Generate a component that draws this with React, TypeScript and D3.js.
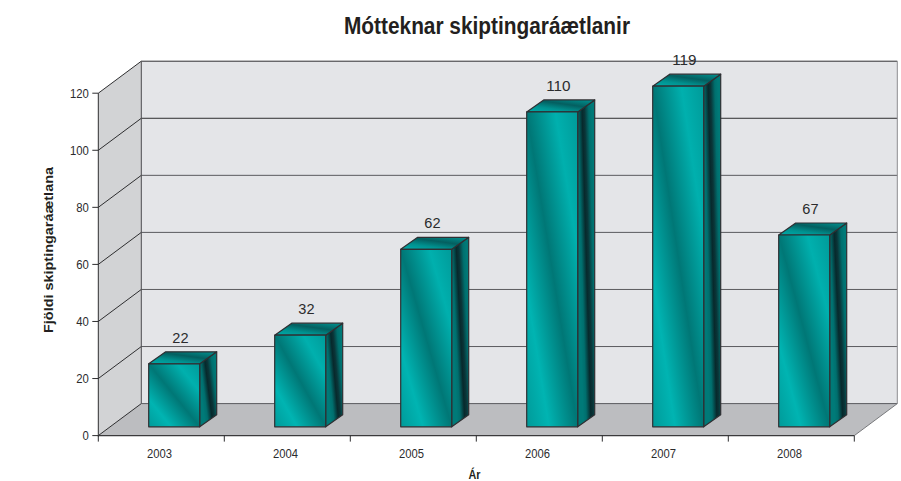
import React from "react";
import * as d3 from "d3";

const years = ["2003", "2004", "2005", "2006", "2007", "2008"];
const counts = [22, 32, 62, 110, 119, 67];
const yTicks = [0, 20, 40, 60, 80, 100, 120];
const title = "Mótteknar skiptingaráætlanir";
const yTitle = "Fjöldi skiptingaráætlana";
const xTitle = "Ár";

const W = 901, H = 481;
const FONT = "'Liberation Sans', Arial, sans-serif";
const INK = "#2b2b2d";
const x0 = 98.3, x1 = 854.3, yBase = 435.6, yTop = 93.2;
const DX = 43, DY = -32;
const barW = 51, barDX = 17, barDY = -12, barOffset = 50.4, barBase = 426.8;

const xBand = d3.scaleBand<string>().domain(years).range([x0, x1]);
const y = d3.scaleLinear().domain([0, 120]).range([yBase, yTop]);
const yBar = d3.scaleLinear().domain([0, 120]).range([barBase, barBase - 343.5]);

export default function App() {
  const pathFor = d3.line();
  return (
    <svg width={W} height={H} viewBox={`0 0 ${W} ${H}`} style={{ position: "absolute", left: 0, top: 0, background: "#fff" }} fontFamily={FONT}>
      <defs>
        <linearGradient id="front" x1="1" y1="0" x2="0" y2="1">
          <stop offset="0" stopColor="#009a99" />
          <stop offset="0.22" stopColor="#00b0ae" />
          <stop offset="0.5" stopColor="#007776" />
          <stop offset="0.78" stopColor="#00b4b2" />
          <stop offset="1" stopColor="#009a99" />
        </linearGradient>
        <linearGradient id="side" x1="0.975" y1="0.28" x2="0.175" y2="0.72">
          <stop offset="0" stopColor="#007a78" />
          <stop offset="0.18" stopColor="#006f6e" />
          <stop offset="0.42" stopColor="#0a3538" />
          <stop offset="0.56" stopColor="#07292c" />
          <stop offset="0.82" stopColor="#006f6e" />
          <stop offset="1" stopColor="#007a78" />
        </linearGradient>
        <linearGradient id="top" x1="0.1" y1="1" x2="0.9" y2="0">
          <stop offset="0" stopColor="#00a9a7" />
          <stop offset="0.3" stopColor="#00918f" />
          <stop offset="0.62" stopColor="#045f60" />
          <stop offset="1" stopColor="#008f8d" />
        </linearGradient>
      </defs>

      {/* walls and floor */}
      <path d={pathFor([[x0 + DX, yTop + DY], [x1 + DX, yTop + DY], [x1 + DX, yBase + DY], [x0 + DX, yBase + DY]])! + "Z"} fill="#e4e5e8" />
      <path d={pathFor([[x0, yTop], [x0 + DX, yTop + DY], [x0 + DX, yBase + DY], [x0, yBase]])! + "Z"} fill="#d2d3d5" />
      <path d={pathFor([[x0, yBase], [x0 + DX, yBase + DY], [x1 + DX, yBase + DY], [x1, yBase]])! + "Z"} fill="#bcbdc0" />

      {/* grid */}
      {yTicks.map((t) => (
        <g key={t}>
          <line x1={x0 + DX} x2={x1 + DX} y1={y(t) + DY} y2={y(t) + DY} stroke={t >= 100 ? "#2e2e30" : "#5a5a5e"} strokeWidth={1} />
          <line x1={x0} x2={x0 + DX} y1={y(t)} y2={y(t) + DY} stroke="#2e2e30" strokeWidth={1} />
          <line x1={x0 - 6} x2={x0} y1={y(t)} y2={y(t)} stroke="#2e2e30" strokeWidth={1} />
          <text x={x0 - 9.5} y={y(t) + 4.6} textAnchor="end" fontSize={13} fill={INK} textLength={String(t).length * 6.3} lengthAdjust="spacingAndGlyphs">{t}</text>
        </g>
      ))}
      <line x1={x0 + DX} x2={x0 + DX} y1={yTop + DY} y2={yBase + DY} stroke="#4a4a4e" strokeWidth={1} />
      <line x1={x1 + DX} x2={x1 + DX} y1={yTop + DY} y2={yBase + DY} stroke="#8c8d90" strokeWidth={1} />
      <line x1={x1} x2={x1 + DX} y1={yBase} y2={yBase + DY} stroke="#77787b" strokeWidth={1} />
      <line x1={x0} x2={x0} y1={yTop} y2={yBase + 1} stroke="#2e2e30" strokeWidth={1} />
      <line x1={x0} x2={x1} y1={yBase} y2={yBase} stroke="#3a3a3c" strokeWidth={1.3} />

      {/* x ticks and labels */}
      {[...years, ""].map((yr, i) => {
        const tx = x0 + i * xBand.step();
        return <line key={i} x1={tx} x2={tx} y1={yBase} y2={yBase + 6} stroke="#2e2e30" strokeWidth={1} />;
      })}
      {years.map((yr) => (
        <text key={yr} x={xBand(yr)! + xBand.bandwidth() / 2 - 1.8} y={458} textAnchor="middle" fontSize={13} fill={INK} textLength={25} lengthAdjust="spacingAndGlyphs">{yr}</text>
      ))}

      {/* bars */}
      {years.map((yr, i) => {
        const bx = xBand(yr)! + barOffset;
        const by = yBar(counts[i]);
        return (
          <g key={yr} stroke="#2f2f32" strokeWidth={1.2} strokeLinejoin="round">
            <path d={pathFor([[bx + barW, by], [bx + barW + barDX, by + barDY], [bx + barW + barDX, barBase + barDY], [bx + barW, barBase]])! + "Z"} fill="url(#side)" />
            <path d={pathFor([[bx, by], [bx + barDX, by + barDY], [bx + barW + barDX, by + barDY], [bx + barW, by]])! + "Z"} fill="url(#top)" />
            <rect x={bx} y={by} width={barW} height={barBase - by} fill="url(#front)" />
          </g>
        );
      })}
      {years.map((yr, i) => (
        <text key={yr} x={xBand(yr)! + barOffset + barW / 2 + 6.2} y={yBar(counts[i]) - 21} textAnchor="middle" fontSize={15.5} fill={INK} textLength={String(counts[i]).length * 8.1} lengthAdjust="spacingAndGlyphs">{counts[i]}</text>
      ))}

      {/* titles */}
      <text x={487} y={33.5} textAnchor="middle" fontSize={23} fontWeight="bold" fill="#231f20" textLength={286} lengthAdjust="spacingAndGlyphs">{title}</text>
      <text transform="translate(53,250) rotate(-90)" textAnchor="middle" fontSize={13.5} fontWeight="bold" fill="#231f20" textLength={166} lengthAdjust="spacingAndGlyphs">{yTitle}</text>
      <text x={474.5} y={479} textAnchor="middle" fontSize={12.5} fontWeight="bold" fill="#231f20" textLength={12} lengthAdjust="spacingAndGlyphs">{xTitle}</text>
    </svg>
  );
}
